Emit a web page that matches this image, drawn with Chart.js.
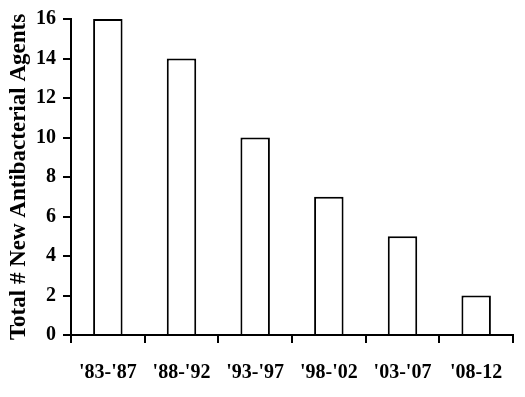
<!DOCTYPE html>
<html><head><meta charset="utf-8">
<script src="https://cdn.jsdelivr.net/npm/chart.js@4/dist/chart.umd.min.js"></script>
<style>html,body{margin:0;padding:0;background:#fff}#wrap{width:525px;height:397px}</style>
</head><body><div id="wrap"><canvas id="c" width="525" height="397"></canvas></div>
<script>
const categories = ["'83-'87", "'88-'92", "'93-'97", "'98-'02", "'03-'07", "'08-12"];
const agentCounts = [16, 14, 10, 7, 5, 2];
const yTicks = [0, 2, 4, 6, 8, 10, 12, 14, 16];
const yTitle = "Total # New Antibacterial Agents";

const fontFam = "'Liberation Serif', 'Times New Roman', serif";
new Chart(document.getElementById('c'), {
  type: 'bar',
  data: { labels: categories, datasets: [{ data: agentCounts, backgroundColor: '#fff', borderColor: '#000', borderWidth: 2, barPercentage: 0.4, categoryPercentage: 1 }] },
  options: {
    responsive: false, animation: false,
    layout: { padding: { top: 19, right: 12, left: 0, bottom: 0 } },
    plugins: { legend: { display: false }, tooltip: { enabled: false } },
    scales: {
      x: {
        offset: true,
        grid: { display: true, offset: true, drawOnChartArea: false, color: '#000', lineWidth: 2, tickLength: 8 },
        border: { color: '#000', width: 2 },
        ticks: { color: '#000', font: { family: fontFam, size: 20, weight: 'bold' }, padding: 18, maxRotation: 0 },
        afterFit: s => { s.height = 62; }
      },
      y: {
        min: 0, max: 16,
        afterBuildTicks: s => { s.ticks = yTicks.map(v => ({ value: v })); },
        grid: { display: true, drawOnChartArea: false, color: '#000', lineWidth: 2, tickLength: 8 },
        border: { color: '#000', width: 2 },
        ticks: { color: '#000', font: { family: fontFam, size: 20, weight: 'bold' }, padding: 7 },
        title: { display: true, text: yTitle, color: '#000', font: { family: fontFam, size: 23, weight: 'bold' }, padding: { top: 5, bottom: 0 } },
        afterFit: s => { s.width = 71; }
      }
    }
  }
});
</script></body></html>
